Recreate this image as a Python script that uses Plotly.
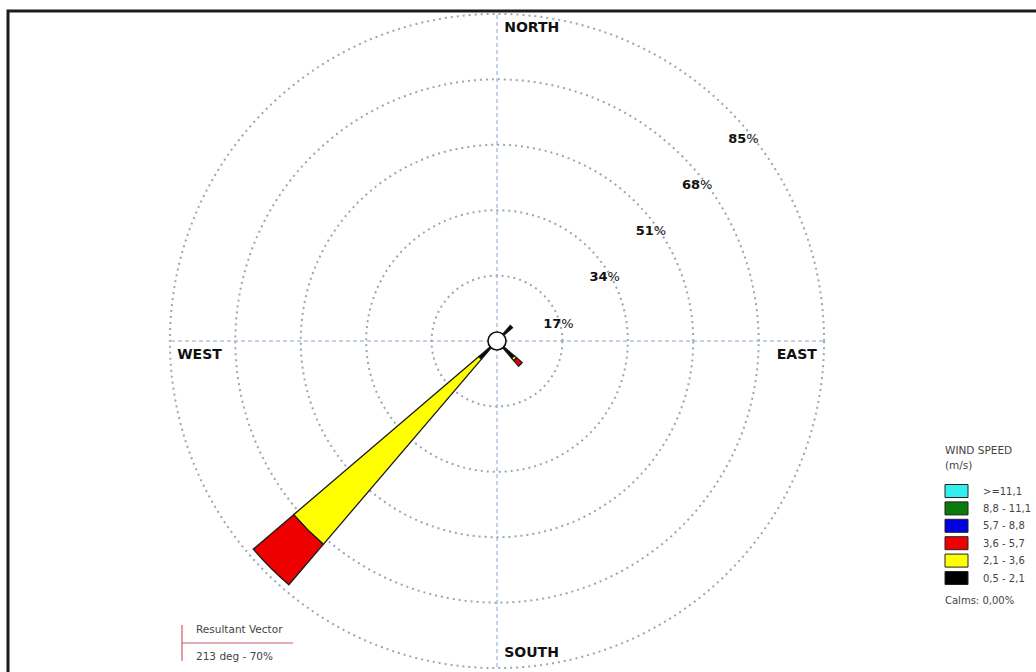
import plotly.graph_objects as go

# ---------------- data ----------------
directions = [0, 22.5, 45, 67.5, 90, 112.5, 135, 157.5,
              180, 202.5, 225, 247.5, 270, 292.5, 315, 337.5]

speed_classes = ["0,5 - 2,1", "2,1 - 3,6", "3,6 - 5,7", "5,7 - 8,8", "8,8 - 11,1", ">=11,1"]
class_colors = ["#000000", "#ffff00", "#ee0000", "#0000e0", "#0a7a0a", "#33eeee"]

# frequency (%) per direction for each speed class
freq_05_21 = [0, 0, 5.3, 0, 0, 0, 5.9, 0, 0, 0, 6.2, 0, 0, 0, 0, 0]
freq_21_36 = [0, 0, 0, 0, 0, 0, 0.8, 0, 0, 0, 63.3, 0, 0, 0, 0, 0]
freq_36_57 = [0, 0, 0, 0, 0, 0, 1.9, 0, 0, 0, 13.8, 0, 0, 0, 0, 0]
freq_57_88 = [0] * 16
freq_88_111 = [0] * 16
freq_111_up = [0] * 16
class_freqs = [freq_05_21, freq_21_36, freq_36_57, freq_57_88, freq_88_111, freq_111_up]

ring_values = [17, 34, 51, 68, 85]
ring_labels = ["17", "34", "51", "68", "85"]

compass_labels = ["NORTH", "EAST", "SOUTH", "WEST"]
compass_angles = [0, 90, 180, 270]

calms_text = "Calms: 0,00%"
resultant_dir = 213
resultant_pct = 70

W, H = 1036, 672


def px(x, y):
    return x / W, (H - y) / H


fig = go.Figure()

for name, col, fr in zip(speed_classes, class_colors, class_freqs):
    fig.add_trace(go.Barpolar(
        r=fr, theta=directions, width=9, name=name,
        marker=dict(color=col, line=dict(color="#1a1a1a", width=1.3)),
        showlegend=False, hoverinfo="skip"))

# ring labels
fig.add_trace(go.Scatterpolar(
    r=ring_values, theta=[45] * len(ring_values), mode="text",
    text=["<br><span style='font-size:13px'><b>%s</b>%%</span>" % t for t in ring_labels],
    textposition="bottom right",
    textfont=dict(family="DejaVu Sans", size=16, color="#111"),
    cliponaxis=False, showlegend=False, hoverinfo="skip"))

# compass labels
fig.add_trace(go.Scatterpolar(
    r=[ring_values[-1]] * 4, theta=compass_angles, mode="markers+text",
    text=compass_labels,
    textposition=["bottom right", "bottom left", "top right", "bottom right"],
    marker=dict(size=10, color="rgba(0,0,0,0)"),
    textfont=dict(family="DejaVu Sans", size=14, color="#111", weight="bold"),
    cliponaxis=False, showlegend=False, hoverinfo="skip"))

# calm hub
fig.add_trace(go.Scatterpolar(
    r=[0], theta=[0], mode="markers",
    marker=dict(size=18, color="white", line=dict(color="#111", width=1.6)),
    showlegend=False, hoverinfo="skip"))

x0, y1 = px(168, 12)
x1, y0 = px(826, 670)

fig.update_layout(
    width=W, height=H, autosize=False,
    margin=dict(l=0, r=0, t=0, b=0),
    paper_bgcolor="white",
    showlegend=False,
    polar=dict(
        domain=dict(x=[x0, x1], y=[y0, y1]),
        bgcolor="white",
        barmode="stack",
        radialaxis=dict(range=[0, 85.5], tickvals=ring_values, showticklabels=False,
                        ticks="", showline=False, gridcolor="#9aa6b6", gridwidth=1.5,
                        griddash="2px,4px"),
        angularaxis=dict(rotation=90, direction="clockwise", tickvals=compass_angles,
                         showticklabels=False, ticks="", showline=False,
                         gridcolor="#86a4c8", gridwidth=1.3, griddash="4px,3px"),
    ),
)

shapes = []
annotations = []

# frame
fx0, fy0 = px(8, 11)
shapes.append(dict(type="rect", xref="paper", yref="paper", x0=fx0, x1=1.2, y0=-0.2, y1=fy0,
                   line=dict(color="#1c1c1c", width=3), fillcolor="rgba(0,0,0,0)"))

# legend
lx, ly = px(943, 450)
annotations.append(dict(x=lx, y=ly, xref="paper", yref="paper", text="WIND SPEED",
                        showarrow=False, xanchor="left", yanchor="middle",
                        font=dict(family="DejaVu Sans", size=10.5, color="#444")))
lx, ly = px(943, 465)
annotations.append(dict(x=lx, y=ly, xref="paper", yref="paper", text="(m/s)",
                        showarrow=False, xanchor="left", yanchor="middle",
                        font=dict(family="DejaVu Sans", size=10.5, color="#444")))
for i, (name, col) in enumerate(zip(speed_classes[::-1], class_colors[::-1])):
    cy = 491 + i * 17.4
    sx0, sy0 = px(945, cy - 6.5)
    sx1, sy1 = px(968, cy + 6.5)
    shapes.append(dict(type="rect", xref="paper", yref="paper", x0=sx0, x1=sx1, y0=sy1, y1=sy0,
                       fillcolor=col, line=dict(color="#222", width=1)))
    tx, ty = px(981, cy)
    annotations.append(dict(x=tx, y=ty, xref="paper", yref="paper", text=name,
                            showarrow=False, xanchor="left", yanchor="middle",
                            font=dict(family="DejaVu Sans", size=10, color="#444")))
lx, ly = px(943, 600)
annotations.append(dict(x=lx, y=ly, xref="paper", yref="paper", text=calms_text,
                        showarrow=False, xanchor="left", yanchor="middle",
                        font=dict(family="DejaVu Sans", size=10, color="#444")))

# resultant vector box
rx0, ry = px(182, 643)
rx1, _ = px(293, 643)
shapes.append(dict(type="line", xref="paper", yref="paper", x0=rx0, x1=rx1, y0=ry, y1=ry,
                   line=dict(color="#d05a6a", width=1.2)))
_, ty0 = px(182, 625)
_, ty1 = px(182, 661)
shapes.append(dict(type="line", xref="paper", yref="paper", x0=rx0, x1=rx0, y0=ty0, y1=ty1,
                   line=dict(color="#d05a6a", width=1.2)))
tx, ty = px(194, 629)
annotations.append(dict(x=tx, y=ty, xref="paper", yref="paper", text="Resultant Vector",
                        showarrow=False, xanchor="left", yanchor="middle",
                        font=dict(family="DejaVu Sans", size=10.5, color="#444")))
tx, ty = px(194, 656)
annotations.append(dict(x=tx, y=ty, xref="paper", yref="paper",
                        text="%d deg - %d%%" % (resultant_dir, resultant_pct),
                        showarrow=False, xanchor="left", yanchor="middle",
                        font=dict(family="DejaVu Sans", size=10.5, color="#444")))

fig.update_layout(shapes=shapes, annotations=annotations)

fig.write_html("out.html")
